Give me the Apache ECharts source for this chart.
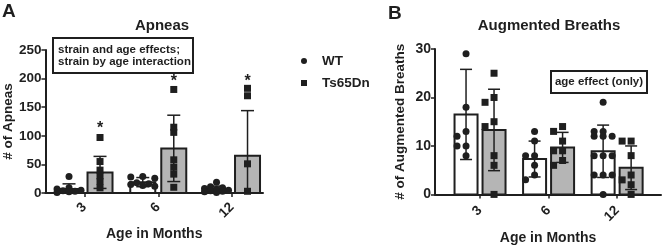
<!DOCTYPE html>
<html>
<head>
<meta charset="utf-8">
<title>Apneas / Augmented Breaths</title>
<script src="https://cdn.jsdelivr.net/npm/echarts@6/dist/echarts.min.js"></script>
</head>
<body style="margin:0">
<div id="main" style="width:662px;height:250px;"></div>
<script>
var ages = ['3', '6', '12'];

// panel A - apneas (mean, SD, individual animals)
var apWtMean = [7, 19, 7];
var apWtSd = [9, 8, 5];
var apTsMean = [36, 78, 65];
var apTsSd = [28, 58, 79];
var apWtPts = [[29, 9, 7, 5, 4, 3, 2, 1], [29, 28, 26, 18, 16, 15, 13, 12], [19, 11, 9, 8, 6, 5, 4, 3, 2, 1]];
var apTsPts = [[97, 55, 40, 30, 20, 9], [181, 115, 106, 58, 45, 33, 10], [183, 170, 51, 3]];
var apStars = [119, 201, 201];

// panel B - augmented breaths
var abWtMean = [16.5, 7.3, 8.9];
var abWtSd = [9.3, 3.7, 5.4];
var abTsMean = [13.3, 9.7, 5.5];
var abTsSd = [8.4, 3.1, 4.5];
var abWtPts = [[29, 18, 13, 12, 10, 10, 8], [13, 11, 8, 8, 6, 4, 3], [19, 13, 13, 12, 12, 12, 8, 8, 8, 4, 4, 4, 0]];
var abTsPts = [[25, 20, 19, 15, 14, 8, 6, 0], [14, 13, 11, 9, 9, 7, 6], [11, 11, 8, 4, 3, 2, 0]];

var ink = '#1f1f1f';
var gray = '#b5b5b5';
var font = '"Liberation Sans", Arial, sans-serif';

var myChart = echarts.init(document.getElementById('main'));

// spread points sideways so they don't sit on top of each other
function swarm(ys, step, diam, maxK) {
    var order = ys.map(function (y, k) { return k; });
    order.sort(function (a, b) { return ys[a] - ys[b]; });
    var placed = [], dx = [];
    order.forEach(function (k) {
        var best = 0, bestD = -1;
        for (var j = 0; j <= 2 * maxK; j++) {
            var cand = j === 0 ? 0 : (j % 2 ? -1 : 1) * Math.ceil(j / 2) * step;
            var minD = Infinity;
            placed.forEach(function (p) {
                var d = Math.sqrt((p[0] - cand) * (p[0] - cand) + (p[1] - ys[k]) * (p[1] - ys[k]));
                if (d < minD) minD = d;
            });
            if (minD >= diam) { best = cand; break; }
            if (minD > bestD) { bestD = minD; best = cand; }
        }
        placed.push([best, ys[k]]);
        dx[k] = best;
    });
    return dx;
}

function groupSeries(name, axis, means, sds, pts, o) {
    return {
        type: 'custom',
        name: name,
        xAxisIndex: axis,
        yAxisIndex: axis,
        itemStyle: { color: ink },
        clip: false,
        data: means.map(function (m, i) { return [i, m, sds[i]]; }),
        renderItem: function (params, api) {
            var i = api.value(0), m = api.value(1), sd = api.value(2);
            var base = api.coord([i, 0]);
            var top = api.coord([i, m]);
            var cx = base[0] + o.off;
            var kids = [];
            kids.push({
                type: 'rect',
                shape: { x: cx - o.bw / 2, y: top[1], width: o.bw, height: base[1] - top[1] },
                style: { fill: o.fill, stroke: ink, lineWidth: 2 }
            });
            var hi = api.coord([i, m + sd])[1];
            var lo = api.coord([i, Math.max(0, m - sd)])[1];
            kids.push({ type: 'line', shape: { x1: cx, y1: hi, x2: cx, y2: lo }, style: { stroke: ink, lineWidth: 1.5 } });
            kids.push({ type: 'line', shape: { x1: cx - o.cap / 2, y1: hi, x2: cx + o.cap / 2, y2: hi }, style: { stroke: ink, lineWidth: 1.5 } });
            if (m - sd > 0) {
                kids.push({ type: 'line', shape: { x1: cx - o.cap / 2, y1: lo, x2: cx + o.cap / 2, y2: lo }, style: { stroke: ink, lineWidth: 1.5 } });
            }
            var ys = pts[i].map(function (v) { return api.coord([i, v])[1]; });
            var dx = swarm(ys, o.step, o.size, o.maxK);
            ys.forEach(function (y, k) {
                var x = cx + dx[k];
                if (o.square) {
                    kids.push({ type: 'rect', shape: { x: x - o.size / 2, y: y - o.size / 2, width: o.size, height: o.size }, style: { fill: ink } });
                } else {
                    kids.push({ type: 'circle', shape: { cx: x, cy: y, r: o.size / 2 }, style: { fill: ink } });
                }
            });
            if (o.stars) {
                // the glyph sits high in its box, so nudge it down a little
                var sy = api.coord([i, o.stars[i]])[1] + 4;
                kids.push({ type: 'text', x: cx, y: sy, style: { text: '*', align: 'center', verticalAlign: 'middle', font: 'bold 16px ' + font, fill: ink } });
            }
            return { type: 'group', children: kids };
        }
    };
}

function xAxisFor(grid, min, max, margin, gap) {
    return {
        type: 'value', gridIndex: grid, min: min, max: max,
        axisLine: { onZero: false, lineStyle: { color: ink, width: 2 } },
        axisTick: { show: true, customValues: [0, 1, 2], length: 4, lineStyle: { color: ink, width: 1.5 } },
        axisLabel: {
            customValues: [0, 1, 2], rotate: 45, margin: margin,
            formatter: function (v) { return ages[Math.round(v)]; },
            fontFamily: font, fontWeight: 'bold', fontSize: 13.5, color: ink
        },
        splitLine: { show: false },
        name: 'Age in Months', nameLocation: 'middle', nameGap: gap,
        nameTextStyle: { fontFamily: font, fontWeight: 'bold', fontSize: 14, color: ink }
    };
}

function yAxisFor(grid, max, interval, title, size, gap) {
    return {
        type: 'value', gridIndex: grid, min: 0, max: max, interval: interval,
        axisLine: { show: true, onZero: false, lineStyle: { color: ink, width: 2 } },
        axisTick: { show: true, length: 4, lineStyle: { color: ink, width: 1.5 } },
        axisLabel: { margin: 4, fontFamily: font, fontWeight: 'bold', fontSize: size, color: ink },
        splitLine: { show: false },
        name: title, nameLocation: 'middle', nameGap: gap,
        nameTextStyle: { fontFamily: font, fontWeight: 'bold', fontSize: 13.5, color: ink }
    };
}

var option = {
    animation: false,
    grid: [
        { left: 43, top: 50, width: 220, height: 143 },
        { left: 435, top: 49, width: 226, height: 150 }
    ],
    xAxis: [xAxisFor(0, -0.53, 2.42, 12, 33), xAxisFor(1, -0.657, 2.64, 14, 36)],
    yAxis: [yAxisFor(0, 250, 50, '# of Apneas', 13.5, 28), yAxisFor(1, 30, 10, '# of Augmented Breaths', 14, 28)],
    legend: {
        orient: 'vertical', left: 296, top: 49,
        itemWidth: 26, itemHeight: 6, itemGap: 8,
        selectedMode: false,
        data: [{ name: 'WT', icon: 'circle' }, { name: 'Ts65Dn', icon: 'path://M0,0H10V10H0Z' }],
        itemStyle: { color: ink, borderWidth: 0 },
        textStyle: { fontFamily: font, fontWeight: 'bold', fontSize: 13.5, color: ink }
    },
    graphic: [
        { type: 'text', x: 2, y: 2, style: { text: 'A', font: 'bold 19px ' + font, fill: ink } },
        { type: 'text', x: 388, y: 4, style: { text: 'B', font: 'bold 19px ' + font, fill: ink } },
        { type: 'text', x: 162, y: 26, style: { text: 'Apneas', align: 'center', verticalAlign: 'middle', font: 'bold 15px ' + font, fill: ink } },
        { type: 'text', x: 549, y: 26, style: { text: 'Augmented Breaths', align: 'center', verticalAlign: 'middle', font: 'bold 15px ' + font, fill: ink } },
        { type: 'rect', shape: { x: 53, y: 38, width: 140, height: 35 }, style: { fill: '#fff', stroke: ink, lineWidth: 2 }, z: 10 },
        { type: 'text', x: 58, y: 44, z: 11, style: { text: 'strain and age effects;\nstrain by age interaction', lineHeight: 12, font: 'bold 11.5px ' + font, fill: ink } },
        { type: 'rect', shape: { x: 551, y: 71, width: 96, height: 22 }, style: { fill: '#fff', stroke: ink, lineWidth: 2 }, z: 10 },
        { type: 'text', x: 599, y: 82, z: 11, style: { text: 'age effect (only)', align: 'center', verticalAlign: 'middle', font: 'bold 11.5px ' + font, fill: ink } }
    ],
    series: [
        groupSeries('WT', 0, apWtMean, apWtSd, apWtPts, { off: -15.5, bw: 25, fill: '#fff', cap: 13, step: 6, size: 7, maxK: 2 }),
        groupSeries('Ts65Dn', 0, apTsMean, apTsSd, apTsPts, { off: 15.5, bw: 25, fill: gray, cap: 13, step: 6, size: 7, maxK: 0, square: true, stars: apStars }),
        groupSeries('WT', 1, abWtMean, abWtSd, abWtPts, { off: -14, bw: 23, fill: '#fff', cap: 12, step: 9, size: 7, maxK: 1 }),
        groupSeries('Ts65Dn', 1, abTsMean, abTsSd, abTsPts, { off: 14, bw: 23, fill: gray, cap: 12, step: 9, size: 7, maxK: 1, square: true })
    ]
};

myChart.setOption(option);
</script>
</body>
</html>
